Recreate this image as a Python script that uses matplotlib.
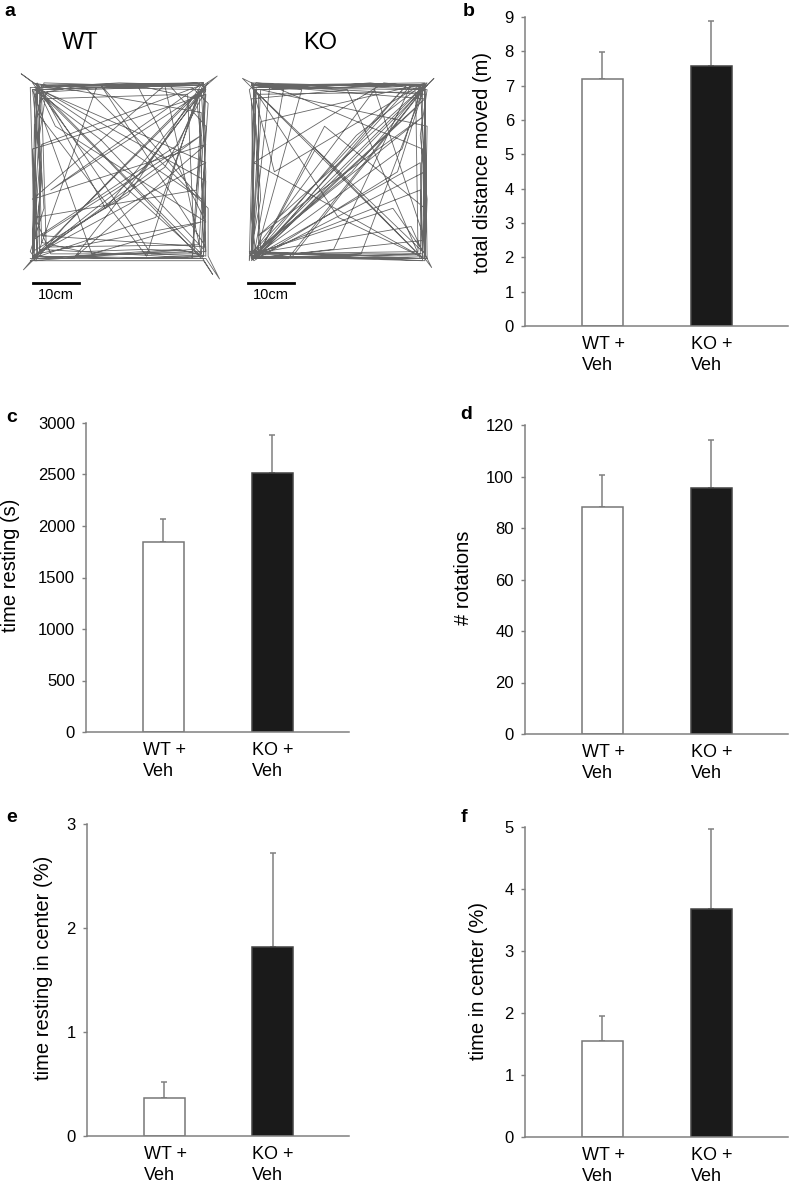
import numpy as np
import matplotlib
matplotlib.use("Agg")
import matplotlib.pyplot as plt

plt.rcParams['font.family'] = ['Liberation Sans', 'DejaVu Sans']

# ---- donnees des barres (moyenne, haut de la barre d'erreur) ----
groups = ["WT +\nVeh", "KO +\nVeh"]

dist_mean = [7.2, 7.58]
dist_top = [7.97, 8.87]

rest_mean = [1840, 2510]
rest_top = [2070, 2885]

rot_mean = [88, 95.5]
rot_top = [100.5, 114]

rest_center_mean = [0.37, 1.82]
rest_center_top = [0.52, 2.72]

center_mean = [1.55, 3.68]
center_top = [1.95, 4.97]

# ---- trajets dans l'arene 40 x 40 cm ----
wt_track = [
    (1.0, 1.0), (1.5, 20.0), (2.0, 39.0), (-1.5, 41.5), (2.5, 38.5), (20.0, 39.5), (38.5, 39.0), (41.5, 41.0),
    (38.0, 38.0), (39.0, 20.0), (38.5, 1.5), (20.0, 1.0), (1.5, 1.5), (-1.0, -1.5), (2.5, 2.0), (2.5, 38.0),
    (24.0, 39.0), (39.0, 9.0), (6.0, 30.0), (2.0, 38.5), (38.0, 2.0), (30.0, 39.0), (1.0, 14.0), (39.0, 26.0),
    (10.0, 1.0), (39.0, 38.5), (37.0, 39.5), (3.0, 39.0), (1.0, 2.0), (2.5, 21.0), (1.5, 38.0), (16.0, 27.0),
    (38.5, 3.0), (37.5, 38.0), (26.0, 1.5), (2.0, 33.0), (1.0, 1.5), (39.0, 1.0), (42.0, -3.5), (39.5, 1.5),
    (39.5, 12.0), (12.0, 39.0), (1.5, 37.0), (1.0, 5.0), (33.0, 26.0), (38.0, 38.0), (8.0, 8.0), (2.0, 1.0),
    (20.0, 2.0), (39.0, 2.5), (38.0, 20.0), (39.0, 37.0), (21.0, 31.0), (1.0, 25.0), (2.0, 2.0), (36.0, 36.5),
    (39.0, 38.0), (15.0, 38.5), (2.5, 3.0), (38.0, 1.0), (18.0, 22.0), (1.5, 38.5), (38.5, 39.5), (28.0, 10.0),
    (1.0, 1.0), (3.0, 18.0), (1.0, 38.0), (31.0, 39.0), (39.0, 30.0), (38.0, 2.0), (5.0, 2.0), (1.5, 10.0),
    (37.0, 16.0), (39.0, 39.0), (2.0, 39.0), (27.0, 2.0), (38.5, 1.5), (39.0, 18.0), (10.0, 34.0), (2.0, 38.5),
    (1.0, 2.5), (22.0, 15.0), (38.0, 39.0), (3.0, 26.0), (2.0, 1.0), (33.0, 3.0), (39.0, 1.5), (38.5, 39.0),
    (1.0, 38.0), (14.0, 2.0), (38.0, 9.0), (2.0, 2.0), (1.5, 30.0), (3.5, 39.5), (36.0, 38.5), (39.5, 35.0),
    (37.5, 4.0), (4.0, 3.5), (3.0, 36.0), (35.0, 37.0), (36.5, 3.0), (0.5, 0.5), (2.0, 0.5), (0.5, 2.5),
    (3.5, 12.0), (2.5, 28.0), (4.0, 37.5), (12.0, 38.0), (26.0, 38.5), (37.0, 36.0), (38.0, 26.0), (37.0, 12.0),
    (36.0, 2.5), (26.0, 3.0), (12.0, 2.5), (3.0, 4.5), (2.0, 39.5), (17.0, 12.0), (39.5, 39.5), (25.0, 20.0),
    (1.0, 1.0), (38.0, 28.0), (3.0, 6.0), (39.0, 3.5), (16.0, 39.0), (38.0, 14.0), (2.5, 38.0), (39.0, 22.0),
    (1.0, 1.5), (30.0, 21.0), (39.0, 38.0), (5.0, 16.0), (38.5, 39.5), (0.5, 38.5), (1.5, 0.5), (38.5, 0.5),
    (40.5, -2.5), (38.0, 1.5), (11.0, 26.0), (1.0, 39.5), (38.0, 33.0), (36.0, 1.0), (0.5, 1.0),
]

ko_track = [
    (1.0, 1.0), (1.5, 39.0), (39.0, 39.0), (39.5, 1.0), (1.0, 1.5), (2.0, 38.5), (38.5, 38.0), (38.0, 2.0),
    (2.0, 1.0), (35.0, 39.0), (1.0, 2.0), (28.0, 38.0), (39.0, 5.0), (1.0, 1.0), (39.0, 36.0), (2.0, 39.0),
    (-1.0, 40.5), (1.0, 38.5), (38.0, 1.5), (1.5, 22.0), (30.0, 39.5), (39.0, 38.5), (41.0, 40.5), (38.5, 38.0),
    (9.0, 1.0), (1.0, 1.0), (34.0, 25.0), (38.5, 39.0), (1.0, 39.0), (20.0, 10.0), (39.0, 1.0), (40.5, -1.0),
    (39.0, 2.0), (39.5, 30.0), (3.0, 38.0), (1.0, 1.5), (38.0, 16.0), (38.5, 2.0), (2.0, 2.0), (12.0, 38.0),
    (1.0, 39.0), (39.0, 39.0), (25.0, 2.0), (1.5, 1.0), (37.0, 34.0), (38.0, 39.0), (6.0, 20.0), (1.0, 39.5),
    (20.0, 39.0), (39.0, 38.0), (38.5, 1.0), (15.0, 25.0), (2.0, 1.0), (39.0, 20.0), (38.0, 39.0), (2.0, 38.0),
    (1.0, 10.0), (2.0, 1.5), (38.0, 1.0), (22.0, 38.0), (1.0, 36.0), (1.5, 2.0), (32.0, 12.0), (39.0, 2.0),
    (39.0, 38.5), (10.0, 1.5), (1.0, 1.0), (30.0, 30.0), (39.0, 39.0), (1.5, 38.0), (3.0, 2.0), (39.0, 1.5),
    (38.5, 25.0), (5.0, 39.0), (1.0, 2.0), (36.0, 8.0), (38.5, 2.5), (1.0, 38.5), (26.0, 39.0), (39.5, 39.0),
    (2.0, 1.0), (17.0, 30.0), (39.0, 12.0), (38.5, 1.0), (2.5, 2.5), (2.5, 37.0), (37.0, 37.5), (37.5, 2.5),
    (2.0, 2.0), (24.0, 28.0), (39.0, 39.5), (1.5, 39.0), (0.5, 0.5), (3.0, 14.0), (2.0, 30.0), (0.5, 38.0),
    (2.0, 39.5), (14.0, 38.5), (27.0, 39.5), (39.5, 38.0), (38.0, 28.0), (39.5, 14.0), (39.0, 0.5), (28.0, 1.0),
    (14.0, 2.0), (0.5, 2.5), (1.5, 0.5), (33.0, 20.0), (39.0, 39.0), (2.5, 6.0), (38.5, 32.0), (0.5, 1.5),
    (23.0, 20.0), (39.5, 39.5), (3.0, 31.0), (1.0, 0.5), (36.0, 39.0), (19.0, 3.0), (1.0, 1.0), (38.0, 22.0),
    (38.5, 0.5), (1.5, 1.5), (8.0, 38.0), (1.0, 39.0), (39.0, 37.0), (39.0, 1.0), (1.0, 1.0),
]

GRIS = '#808080'
W, H = 790, 1185


def rect(left, top, right, bottom):
    # pixels -> fraction de la figure
    return [left / W, 1 - bottom / H, (right - left) / W, (bottom - top) / H]


def bar_panel(ax, means, tops, ylim, yticks, ylabel, lab_x, lab_y):
    x = np.arange(len(means))
    err = np.array(tops) - np.array(means)
    ax.errorbar(x, means, yerr=[np.zeros(len(err)), err], fmt='none',
                ecolor=GRIS, elinewidth=1.1, capsize=2.5, capthick=1.1, zorder=1)
    ax.bar(x, means, width=0.376, color=['white', '#1a1a1a'],
           edgecolor=['#777777', '#444444'], linewidth=1.1, zorder=2)
    ax.set_xlim(-0.711, 1.702)
    ax.set_ylim(*ylim)
    ax.set_yticks(yticks)
    ax.set_xticks([])
    # etiquettes alignees a gauche sur le bord gauche de chaque barre
    for xi, g in zip(x, groups):
        ax.annotate(g, xy=(xi - 0.188, 0), xycoords=('data', 'axes fraction'),
                    xytext=(0, -7.5), textcoords='offset points',
                    ha='left', va='top', fontsize=13, linespacing=1.25)
    ax.tick_params(axis='y', direction='out', length=3, width=1, color=GRIS,
                   labelsize=12, pad=5)
    for s in ['top', 'right']:
        ax.spines[s].set_visible(False)
    for s in ['left', 'bottom']:
        ax.spines[s].set_color(GRIS)
        ax.spines[s].set_linewidth(1.1)
    ax.set_ylabel(ylabel, fontsize=14.5)
    ax.yaxis.set_label_coords(lab_x, lab_y)


fig = plt.figure(figsize=(7.9, 11.85), dpi=100)

# ---- panneau a : trajets ----
for track, box_left, ax_l, ax_r, bar_x0, name, name_x in [
        (wt_track, 28, 15, 232, 1.1, "WT", 80),
        (ko_track, 247, 234, 445, 0.2, "KO", 320)]:
    ax = fig.add_axes(rect(ax_l, 65, ax_r, 305))
    pts = np.array(track)
    ax.plot(pts[:, 0], pts[:, 1], color='#333333', lw=0.6, alpha=0.75)
    ax.set_xlim((ax_l - box_left) / 4.56, (ax_r - box_left) / 4.56)
    ax.set_ylim((263 - 305) / 4.56, (263 - 65) / 4.56)
    ax.plot([bar_x0, bar_x0 + 10], [-4.4, -4.4], color='black', lw=2)
    ax.text(bar_x0 + 5, -7.0, "10cm", fontsize=10.5, ha='center', va='center')
    ax.axis('off')
    fig.text(name_x / W, 1 - 43 / H, name, fontsize=17, ha='center', va='center')

# ---- panneaux b a f ----
ax_b = fig.add_axes(rect(525, 17, 788, 326))
bar_panel(ax_b, dist_mean, dist_top, (0, 9), range(0, 10),
          "total distance moved (m)", -0.125, 0.53)

ax_c = fig.add_axes(rect(86, 423, 349, 732))
bar_panel(ax_c, rest_mean, rest_top, (0, 3000), range(0, 3001, 500),
          "time resting (s)", -0.251, 0.54)

ax_d = fig.add_axes(rect(525, 425, 788, 734))
bar_panel(ax_d, rot_mean, rot_top, (0, 120), range(0, 121, 20),
          "# rotations", -0.198, 0.505)

ax_e = fig.add_axes(rect(87, 824, 349, 1136))
bar_panel(ax_e, rest_center_mean, rest_center_top, (0, 3), range(0, 4),
          "time resting in center (%)", -0.129, 0.54)

ax_f = fig.add_axes(rect(525, 827, 788, 1137))
bar_panel(ax_f, center_mean, center_top, (0, 5), range(0, 6),
          "time in center (%)", -0.141, 0.503)

# lettres des panneaux
for lettre, px, py in [("a", 4, 12), ("b", 463, 12), ("c", 6, 417),
                       ("d", 460, 415), ("e", 6, 817), ("f", 461, 817)]:
    fig.text(px / W, 1 - py / H, lettre, fontsize=14, fontweight='bold',
             ha='left', va='center')

fig.savefig("out.png", dpi=100)
